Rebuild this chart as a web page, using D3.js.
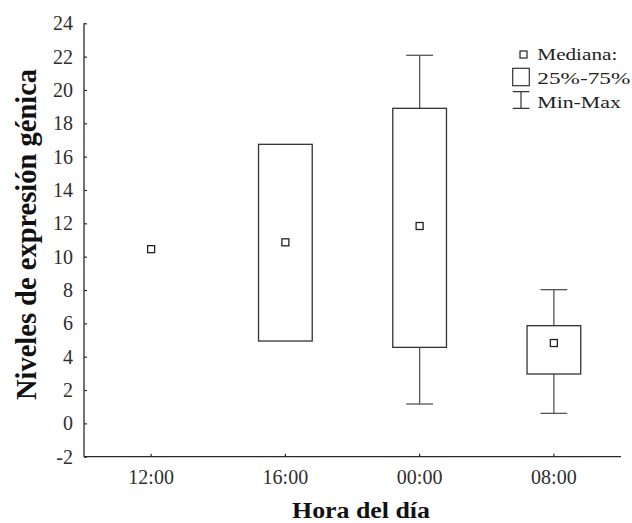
<!DOCTYPE html>
<html>
<head>
<meta charset="utf-8">
<script src="https://cdn.jsdelivr.net/npm/d3@7"></script>
<style>
  html, body { margin: 0; padding: 0; background: #fff; }
  svg { display: block; }
  text { font-family: "Liberation Serif", "Times New Roman", serif; }
</style>
</head>
<body>
<svg id="chart" width="632" height="523"></svg>
<script>
const categories = ["12:00", "16:00", "00:00", "08:00"];
const medians = [10.45, 10.86, 11.84, 4.82];
const q1 = [10.45, 4.94, 4.56, 2.96];
const q3 = [10.45, 16.74, 18.9, 5.86];
const mins = [10.45, 4.94, 1.16, 0.6];
const maxs = [10.45, 16.74, 22.08, 8.02];
const yTicks = [-2, 0, 2, 4, 6, 8, 10, 12, 14, 16, 18, 20, 22, 24];
const legendLabels = ["Mediana:", "25%-75%", "Min-Max"];
const xTitle = "Hora del día";
const yTitle = "Niveles de expresión génica";

const data = categories.map((c, i) => ({
  cat: c, med: medians[i], q1: q1[i], q3: q3[i], min: mins[i], max: maxs[i]
}));

const svg = d3.select("#chart");
const mLeft = 84, mRight = 621, mTop = 23.3, mBottom = 456.7;

const x = d3.scaleBand().domain(categories).range([mLeft, mRight]).padding(0);
const y = d3.scaleLinear().domain([-2, 24]).range([mBottom, mTop]);

const axisColor = "#2a2a2a";
const textColor = "#2e2e2e";

// Y axis
const yAxis = svg.append("g")
  .attr("transform", `translate(${mLeft},0)`)
  .call(d3.axisLeft(y).tickValues(yTicks).tickFormat(d => String(d))
    .tickSize(-3).tickPadding(11).tickSizeOuter(0));
yAxis.attr("font-family", null);
yAxis.select(".domain").attr("stroke", axisColor).attr("stroke-width", 1.3)
  .attr("d", `M0,${mTop}V${mBottom}`);
yAxis.selectAll(".tick line").attr("stroke", axisColor).attr("stroke-width", 1.2);
yAxis.selectAll(".tick text")
  .attr("fill", textColor)
  .style("font-size", "20px")
  .style("font-family", "'Liberation Serif', serif");

// X axis
const xAxis = svg.append("g")
  .attr("transform", `translate(0,${mBottom})`)
  .call(d3.axisBottom(x).tickSize(-3).tickPadding(13).tickSizeOuter(0));
xAxis.attr("font-family", null);
xAxis.select(".domain").attr("stroke", axisColor).attr("stroke-width", 1.3)
  .attr("d", `M${mLeft},0H${mRight}`);
xAxis.selectAll(".tick line").attr("stroke", axisColor).attr("stroke-width", 1.2);
xAxis.selectAll(".tick text")
  .attr("fill", textColor)
  .style("font-size", "20px")
  .style("font-family", "'Liberation Serif', serif");

// Boxes
const bw = x.bandwidth() * 0.4;
const cw = x.bandwidth() * 0.2;
const g = svg.append("g");
const groups = g.selectAll("g.box").data(data).join("g").attr("class", "box");

groups.each(function(d) {
  const gg = d3.select(this);
  const cx = x(d.cat) + x.bandwidth() / 2;
  if (d.max > d.q3) {
    gg.append("line").attr("x1", cx).attr("x2", cx).attr("y1", y(d.q3)).attr("y2", y(d.max))
      .attr("stroke", "#555").attr("stroke-width", 1.3);
    gg.append("line").attr("x1", cx - cw / 2).attr("x2", cx + cw / 2).attr("y1", y(d.max)).attr("y2", y(d.max))
      .attr("stroke", "#555").attr("stroke-width", 1.3);
  }
  if (d.min < d.q1) {
    gg.append("line").attr("x1", cx).attr("x2", cx).attr("y1", y(d.q1)).attr("y2", y(d.min))
      .attr("stroke", "#555").attr("stroke-width", 1.3);
    gg.append("line").attr("x1", cx - cw / 2).attr("x2", cx + cw / 2).attr("y1", y(d.min)).attr("y2", y(d.min))
      .attr("stroke", "#555").attr("stroke-width", 1.3);
  }
  if (d.q3 > d.q1) {
    gg.append("rect").attr("x", cx - bw / 2).attr("y", y(d.q3))
      .attr("width", bw).attr("height", y(d.q1) - y(d.q3))
      .attr("fill", "none").attr("stroke", "#333").attr("stroke-width", 1.3);
  }
  gg.append("rect").attr("x", cx - 3.5).attr("y", y(d.med) - 3.5)
    .attr("width", 7).attr("height", 7)
    .attr("fill", "#fff").attr("stroke", "#222").attr("stroke-width", 1.3);
});

// Legend
const lg = svg.append("g").attr("transform", "translate(512.7,0)");
lg.append("rect").attr("x", 7.3).attr("y", 51).attr("width", 7).attr("height", 7)
  .attr("fill", "#fff").attr("stroke", "#222").attr("stroke-width", 1.2);
lg.append("rect").attr("x", 0).attr("y", 68.3).attr("width", 16.6).attr("height", 17.4)
  .attr("fill", "none").attr("stroke", "#333").attr("stroke-width", 1.2);
lg.append("path").attr("d", "M0,91.7H16.6M8.3,91.7V108.3M0,108.3H16.6")
  .attr("fill", "none").attr("stroke", "#333").attr("stroke-width", 1.2);
const legY = [60, 84.3, 108.3];
const legW = [80, 93, 83.5];
lg.selectAll("text.leg").data(legendLabels).join("text")
  .attr("class", "leg")
  .attr("x", 24.6)
  .attr("y", (d, i) => legY[i])
  .attr("fill", "#222")
  .attr("textLength", (d, i) => legW[i])
  .attr("lengthAdjust", "spacingAndGlyphs")
  .style("font-size", "17.5px")
  .text(d => d);

// Titles
svg.append("text")
  .attr("x", 361).attr("y", 518)
  .attr("text-anchor", "middle")
  .attr("fill", "#111")
  .style("font-size", "23px").style("font-weight", "bold")
  .attr("textLength", 138).attr("lengthAdjust", "spacingAndGlyphs")
  .text(xTitle);

svg.append("text")
  .attr("transform", "translate(36,234.5) rotate(-90)")
  .attr("text-anchor", "middle")
  .attr("fill", "#111")
  .style("font-size", "28.5px").style("font-weight", "bold")
  .text(yTitle);
</script>
</body>
</html>
